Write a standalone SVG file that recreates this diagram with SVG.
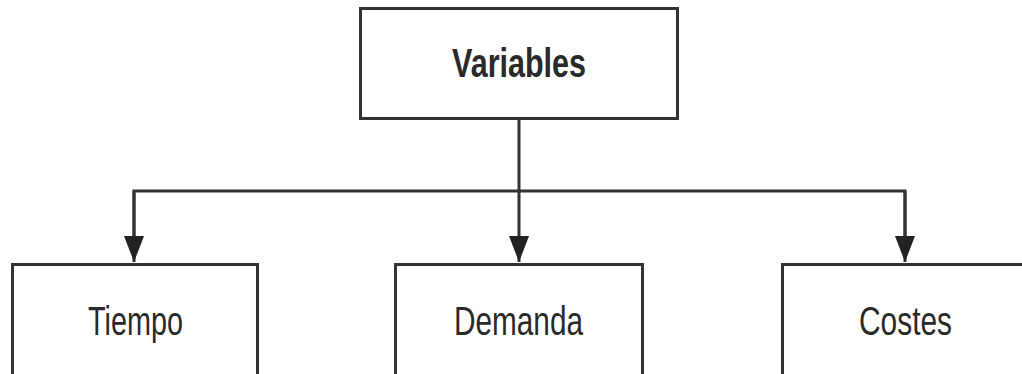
<svg xmlns="http://www.w3.org/2000/svg" width="1022" height="374" viewBox="0 0 1022 374">
  <style>
    .box { fill: #ffffff; stroke: #333333; stroke-width: 3; }
    .lbl { font-family: "Liberation Sans Narrow", "Liberation Sans", Arial, sans-serif; font-size: 40px; fill: #2a2a2a; text-anchor: middle; }
    .bold { font-weight: bold; }
    .wire { fill: none; stroke: #333333; stroke-width: 3; stroke-linejoin: miter; }
  </style>
  <defs>
    <marker id="arrow" markerUnits="userSpaceOnUse" markerWidth="28" markerHeight="22" refX="26" refY="10" orient="auto">
      <path d="M0,0 L26,10 L0,20 Z" fill="#222222"/>
    </marker>
  </defs>
  <rect width="1022" height="374" fill="#ffffff"/>

  <g id="connectors">
    <path class="wire" d="M519,118 V191"/>
    <path class="wire" d="M134,240 V191 H905 V240"/>
    <path class="wire" d="M134,191 V262" marker-end="url(#arrow)"/>
    <path class="wire" d="M519,191 V262" marker-end="url(#arrow)"/>
    <path class="wire" d="M905,191 V262" marker-end="url(#arrow)"/>
  </g>

  <g id="variables">
    <rect class="box" x="360.5" y="8.5" width="317" height="110"/>
    <text class="lbl bold" x="519" y="76.5" textLength="134" lengthAdjust="spacingAndGlyphs">Variables</text>
  </g>

  <g id="tiempo">
    <rect class="box" x="12.5" y="264.5" width="245" height="120"/>
    <text class="lbl" x="135.5" y="335" textLength="95" lengthAdjust="spacingAndGlyphs">Tiempo</text>
  </g>

  <g id="demanda">
    <rect class="box" x="395.5" y="264.5" width="247" height="120"/>
    <text class="lbl" x="518.5" y="335" textLength="129" lengthAdjust="spacingAndGlyphs">Demanda</text>
  </g>

  <g id="costes">
    <rect class="box" x="782.5" y="264.5" width="260" height="120"/>
    <text class="lbl" x="905.5" y="335" textLength="93" lengthAdjust="spacingAndGlyphs">Costes</text>
  </g>
</svg>
